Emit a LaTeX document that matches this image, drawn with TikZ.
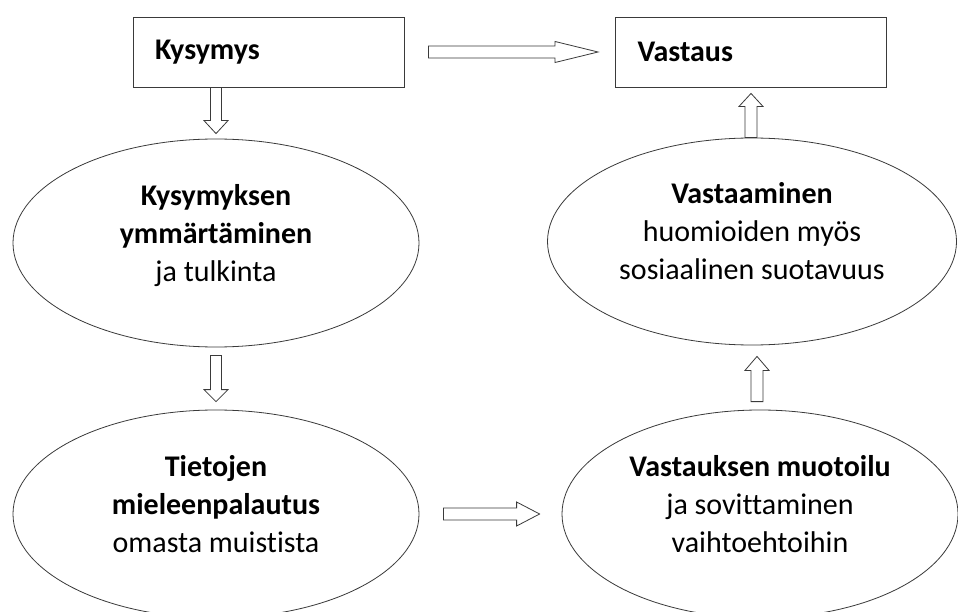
\documentclass[tikz,border=0pt]{standalone}
\usepackage{fontspec}
\setmainfont{Carlito}[Ligatures=NoCommon]
\usetikzlibrary{calc,shapes.geometric}
\definecolor{edge}{HTML}{3A3A3A}
\tikzset{
  box/.style={draw=edge,line width=0.9pt,minimum width=271pt,minimum height=70pt,inner xsep=22pt,text width=227pt,align=left,font=\fontsize{30}{34}\selectfont\bfseries},
  ell/.style={ellipse,draw=edge,line width=0.8pt,inner sep=0pt,align=center,text depth=21pt,font=\fontsize{30}{38}\selectfont},
  blockarr/.style={draw=edge,line width=0.8pt,fill=white,line join=miter},
}
% hollow block arrow: start, tip, shaft half width, head half width, head length
\newcommand{\blockarrow}[5]{%
  \coordinate (hb) at ($(#2)!#5!(#1)$);
  \draw[blockarr] ($(#1)!#3!90:(#2)$) -- ($(hb)!#3!90:(#2)$) -- ($(hb)!#4!90:(#2)$) -- (#2)
    -- ($(hb)!#4!-90:(#2)$) -- ($(hb)!#3!-90:(#2)$) -- ($(#1)!#3!-90:(#2)$) -- cycle;}

\begin{document}
\begin{tikzpicture}[x=1pt,y=-1pt]
\useasboundingbox (0,0) rectangle (958,612);
\fill[white] (0,0) rectangle (958,612);
\clip (0,0) rectangle (958,612);

\node[box] (kys) at (268.5,52) {Kysymys};
\node[box] (vas) at (751,52) {Vastaus};
\node[ell,minimum width=406pt,minimum height=208pt] (ymm) at (216,243) {\textbf{Kysymyksen}\\\textbf{ymmärtäminen}\\ja tulkinta};
\node[ell,minimum width=406pt,minimum height=208pt] (tie) at (216,514) {\textbf{Tietojen}\\\textbf{mieleenpalautus}\\omasta muistista};
\node[ell,minimum width=396pt,minimum height=208pt] (muo) at (760,514) {\textbf{Vastauksen muotoilu}\\ja sovittaminen\\vaihtoehtoihin};
\node[ell,minimum width=409pt,minimum height=207pt] (vsm) at (752,241.5) {\textbf{Vastaaminen}\\huomioiden myös\\sosiaalinen suotavuus};

% arrow ends
\coordinate (a1s) at ($(kys.east)+(24,0)$);
\coordinate (a1e) at ($(vas.west)+(-17,0)$);
\coordinate (a2s) at (ymm.north |- kys.south);
\coordinate (a2e) at ($(ymm.north)+(0,-5)$);
\coordinate (a3s) at ($(ymm.south)+(0,8)$);
\coordinate (a3e) at ($(tie.north)+(0,-8)$);
\coordinate (a4s) at ($(tie.east)+(24,0)$);
\coordinate (a4e) at ($(muo.west)+(-22,0)$);
\coordinate (a5s) at ($(muo.north)+(-3,-8)$);
\coordinate (a5e) at ($(a5s |- vsm.south)+(0,11)$);
\coordinate (a6s) at (vas.south |- vsm.north);
\coordinate (a6e) at ($(vas.south)+(0,6)$);

\blockarrow{a1s}{a1e}{6pt}{10.5pt}{43pt}
\blockarrow{a2s}{a2e}{5.5pt}{12pt}{13pt}
\blockarrow{a3s}{a3e}{5.5pt}{12pt}{12pt}
\blockarrow{a4s}{a4e}{6pt}{12pt}{23pt}
\blockarrow{a5s}{a5e}{6pt}{12pt}{14pt}
\blockarrow{a6s}{a6e}{6pt}{12pt}{13pt}
\end{tikzpicture}
\end{document}
